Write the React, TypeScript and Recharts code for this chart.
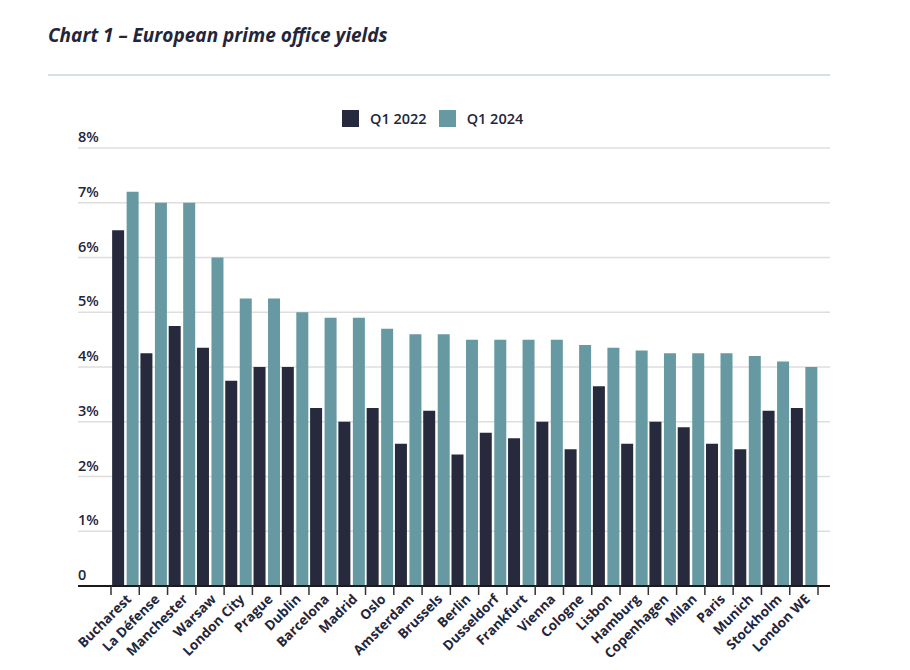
import { BarChart, Bar, XAxis, YAxis, CartesianGrid } from 'recharts'

const cities = [
  'Bucharest', 'La Défense', 'Manchester', 'Warsaw', 'London City', 'Prague', 'Dublin',
  'Barcelona', 'Madrid', 'Oslo', 'Amsterdam', 'Brussels', 'Berlin', 'Dusseldorf',
  'Frankfurt', 'Vienna', 'Cologne', 'Lisbon', 'Hamburg', 'Copenhagen', 'Milan',
  'Paris', 'Munich', 'Stockholm', 'London WE',
]
const q1_2022 = [
  6.5, 4.25, 4.75, 4.35, 3.75, 4.0, 4.0, 3.25, 3.0, 3.25, 2.6, 3.2, 2.4, 2.8,
  2.7, 3.0, 2.5, 3.65, 2.6, 3.0, 2.9, 2.6, 2.5, 3.2, 3.25,
]
const q1_2024 = [
  7.2, 7.0, 7.0, 6.0, 5.25, 5.25, 5.0, 4.9, 4.9, 4.7, 4.6, 4.6, 4.5, 4.5,
  4.5, 4.5, 4.4, 4.35, 4.3, 4.25, 4.25, 4.25, 4.2, 4.1, 4.0,
]
const yTicks = [0, 1, 2, 3, 4, 5, 6, 7, 8]
const seriesNames = ['Q1 2022', 'Q1 2024']

const data = cities.map((city, i) => ({ city, a: q1_2022[i], b: q1_2024[i] }))

const DARK = '#262a3c'
const TEAL = '#6699a2'
const INK = '#23263a'
const FONT = '"Open Sans", "DejaVu Sans", sans-serif'

const PLOT_LEFT = 78
const PLOT_RIGHT = 830
const PAD_L = 33
const PAD_R = 12
const BAND = (PLOT_RIGHT - PLOT_LEFT - PAD_L - PAD_R) / cities.length

function CityTick(props: any) {
  const { x, y, payload, index } = props
  const b0 = x - BAND / 2
  return (
    <g>
      <line x1={b0} x2={b0} y1={y} y2={y + 9} stroke="#333" strokeWidth={1.5} />
      {index === cities.length - 1 && (
        <line x1={x + BAND / 2} x2={x + BAND / 2} y1={y} y2={y + 9} stroke="#333" strokeWidth={1.5} />
      )}
      <text
        x={x + 7}
        y={y + 14}
        transform={`rotate(-45, ${x + 7}, ${y + 14})`}
        textAnchor="end"
        fill={INK}
        fontSize={13.5}
        fontWeight={700}
        fontFamily={FONT}
      >
        {payload.value}
      </text>
    </g>
  )
}

function YieldTick(props: any) {
  const { y, payload } = props
  return (
    <text x={PLOT_LEFT} y={y - 6} textAnchor="start" fill={INK} fontSize={14.5} fontWeight={600} fontFamily={FONT}>
      {payload.value === 0 ? '0' : `${payload.value}%`}
    </text>
  )
}

export default function App() {
  return (
    <div style={{ position: 'absolute', left: 0, top: 0, width: 910, height: 670, background: '#fff', fontFamily: FONT }}>
      <div
        style={{
          position: 'absolute', left: 48, top: 22, fontSize: 19, fontWeight: 700,
          fontStyle: 'italic', color: INK, whiteSpace: 'nowrap',
        }}
      >
        Chart 1 – European prime office yields
      </div>
      <div style={{ position: 'absolute', left: 48, top: 74, width: 782, height: 1.5, background: '#d6dfe7' }} />
      <div style={{ position: 'absolute', left: 342, top: 109, display: 'flex', alignItems: 'center' }}>
        {seriesNames.map((name, i) => (
          <div key={name} style={{ display: 'flex', alignItems: 'center', marginRight: 12 }}>
            <div style={{ width: 17, height: 17, background: i === 0 ? DARK : TEAL, marginRight: 11 }} />
            <span style={{ fontSize: 14.5, fontWeight: 600, color: INK }}>{name}</span>
          </div>
        ))}
      </div>
      <div style={{ position: 'absolute', left: 0, top: 0 }}>
        <BarChart
          width={910}
          height={670}
          data={data}
          margin={{ top: 148, right: 910 - PLOT_RIGHT, bottom: 4, left: 0 }}
          barCategoryGap="4%"
          barGap={2.5}
        >
          <CartesianGrid horizontal vertical={false} stroke="#dedede" strokeWidth={1.5} />
          <XAxis
            dataKey="city"
            interval={0}
            padding={{ left: PAD_L, right: PAD_R }}
            tickLine={false}
            tickSize={0}
            tickMargin={0}
            axisLine={{ stroke: '#1a1a1a', strokeWidth: 2 }}
            tick={<CityTick />}
            height={80}
          />
          <YAxis
            domain={[0, 8]}
            ticks={yTicks}
            interval={0}
            width={PLOT_LEFT}
            axisLine={false}
            tickLine={false}
            tick={<YieldTick />}
          />
          <Bar dataKey="a" name={seriesNames[0]} fill={DARK} isAnimationActive={false} />
          <Bar dataKey="b" name={seriesNames[1]} fill={TEAL} isAnimationActive={false} />
        </BarChart>
      </div>
    </div>
  )
}
